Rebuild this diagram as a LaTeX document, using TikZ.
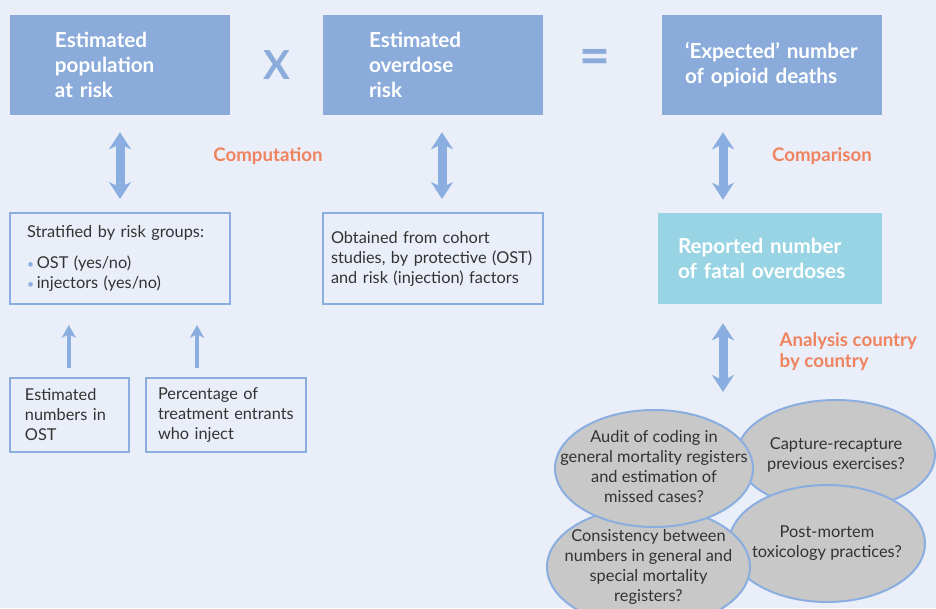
\documentclass[tikz,border=0pt]{standalone}
\usepackage{fontspec}
\setmainfont{Lato}
\usetikzlibrary{shapes.geometric,arrows.meta}
\definecolor{pagebg}{HTML}{E9EEF8}
\definecolor{headblue}{HTML}{8BACDB}
\definecolor{linkblue}{HTML}{8AAEDF}
\definecolor{repcyan}{HTML}{98D4E3}
\definecolor{notecol}{HTML}{F0835F}
\definecolor{ovalgray}{HTML}{C8C8C8}
\definecolor{inktext}{HTML}{333333}
\newcommand*{\bul}{{\color{linkblue}\scalebox{0.75}{\textbullet}}\,}
\newcommand*{\ovaltext}[1]{\makebox[0pt]{\begin{tabular}{@{}c@{}}#1\end{tabular}}}

\begin{document}
\begin{tikzpicture}[x=0.75pt,y=-0.75pt,
	headbox/.style={fill=headblue,text=white,font=\bfseries\fontsize{15.5}{18.75}\selectfont,align=left,minimum height=75pt,inner ysep=0pt},
	framebox/.style={draw=linkblue,line width=1.5pt,text=inktext,font=\fontsize{12.25}{15}\selectfont,align=left,inner ysep=0pt},
	oval/.style={ellipse,draw=linkblue,line width=1.5pt,fill=ovalgray,text=inktext,font=\fontsize{12.3}{15}\selectfont,inner sep=0pt},
	note/.style={text=notecol,font=\bfseries\fontsize{14}{15.75}\selectfont,align=left},
	sign/.style={text=headblue,font=\bfseries\fontsize{30}{30}\selectfont},
	swap/.style={line width=6.75pt,draw=linkblue,{Stealth[length=12.75pt,width=16.5pt,inset=4pt]}-{Stealth[length=12.75pt,width=16.5pt,inset=4pt]}},
	feed/.style={line width=3pt,draw=linkblue,-{Stealth[length=9.5pt,width=10.5pt,inset=2.5pt]}}]
	\fill[pagebg] (0,0) rectangle (936,608);
	\useasboundingbox (0,0) rectangle (936,608);
	\node[headbox,text width=97.5pt,inner xsep=33.75pt] (popbox) at (120,65) {Estimated\\population\\at risk};
	\node[sign] (times) at (277,65) {X};
	\node[headbox,text width=96pt,inner xsep=34.5pt] (riskbox) at (433,65) {Estimated\\overdose\\risk};
	\node[sign,font=\bfseries\fontsize{40}{40}\selectfont] (equals) at (595,62) {=};
	\node[headbox,text width=130.5pt,inner xsep=17.25pt] (expbox) at (772,65) {`Expected' number\\of opioid deaths};
	\node[note] (compute) at (268,156) {Computation};
	\node[note] (compare) at (822,156) {Comparison};
	\node[framebox,text width=139.5pt,inner xsep=12.75pt,minimum height=68.25pt] (strat) at (120,258.5)
		{Stratified by risk groups:\\[8pt]\bul OST (yes/no)\\\bul injectors (yes/no)};
	\node[framebox,text width=153pt,inner xsep=6pt,minimum height=68.25pt] (cohort) at (433,258.5)
		{Obtained from cohort\\studies, by protective (OST)\\and risk (injection) factors};
	\node[headbox,fill=repcyan,text width=138pt,inner xsep=15pt,minimum height=68.25pt] (reported) at (770,258.5)
		{Reported number\\of fatal overdoses};
	\node[framebox,text width=66.75pt,inner xsep=11.25pt,minimum height=55.5pt] (ostnum) at (69.5,415)
		{Estimated\\numbers in\\OST};
	\node[framebox,text width=102pt,inner xsep=9pt,minimum height=55.5pt] (inject) at (226,415)
		{Percentage of\\treatment entrants\\who inject};
	\node[note,anchor=west] (bycountry) at (775,352) {Analysis country\\by country};
	\coordinate (ovaltop) at (723,392);
	% overlapping ovals, back to front
	\node[oval,minimum width=148.5pt,minimum height=82.5pt] (capture) at (836,455)
		{\ovaltext{Capture-recapture\\previous exercises?}};
	\node[oval,minimum width=147pt,minimum height=87.75pt] (postmortem) at (827,543.5)
		{\raisebox{8.25pt}{\ovaltext{Post-mortem\\toxicology practices?}}};
	\node[oval,minimum width=152.25pt,minimum height=90pt] (consist) at (648.5,567)
		{\ovaltext{Consistency between\\numbers in general and\\special mortality\\registers?}};
	\node[oval,minimum width=148.5pt,minimum height=87.75pt] (audit) at (654,468.5)
		{\ovaltext{Audit of coding in\\general mortality registers\\and estimation of\\missed cases?}};
	\draw[swap,shorten <=12.75pt,shorten >=9.75pt] (popbox.south) -- (popbox.south |- strat.north);
	\draw[swap,shorten <=12.75pt,shorten >=9.75pt] ([xshift=6.75pt]riskbox.south) -- ([xshift=6.75pt]riskbox.south |- cohort.north);
	\draw[swap,shorten <=12.75pt,shorten >=9.75pt] ([xshift=-36.75pt]expbox.south) -- ([xshift=-36.75pt]expbox.south |- reported.north);
	\draw[swap,shorten <=14.25pt] ([xshift=-35.25pt]reported.south) -- (ovaltop);
	\draw[feed,shorten <=6.75pt,shorten >=15pt] ([xshift=-0.5pt]ostnum.north) -- ([xshift=-0.5pt]ostnum.north |- strat.south);
	\draw[feed,shorten <=6.75pt,shorten >=15pt] ([xshift=-21.75pt]inject.north) -- ([xshift=-21.75pt]inject.north |- strat.south);
\end{tikzpicture}
\end{document}
